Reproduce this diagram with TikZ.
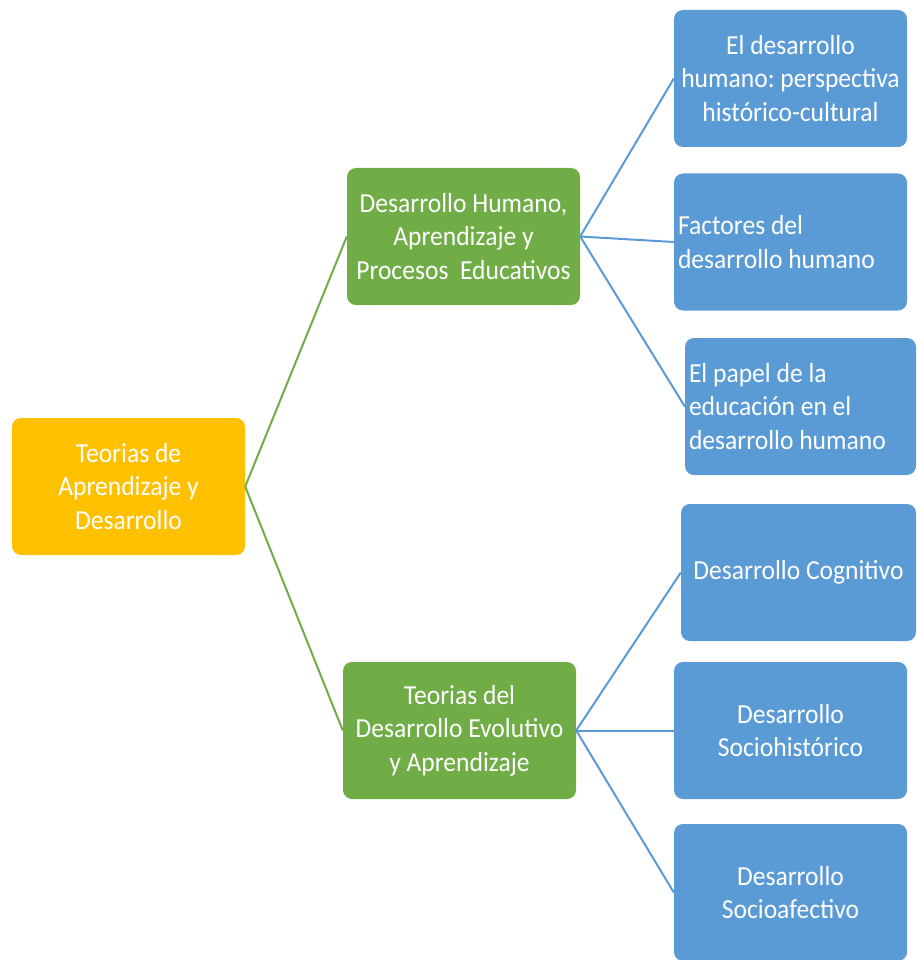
\documentclass[tikz,border=0pt]{standalone}
\usepackage{fontspec}
\setmainfont[FakeStretch=0.93]{Carlito}
\frenchspacing
\definecolor{rootfill}{HTML}{FFC000}
\definecolor{themegreen}{HTML}{70AD47}
\definecolor{themeblue}{HTML}{5B9BD5}
\tikzset{
  box/.style={rounded corners=9pt, minimum width=233pt, minimum height=137pt,
    inner sep=0pt, align=center, text=white,
    font=\fontsize{27.5}{33.5}\selectfont},
  rootbox/.style={box, fill=rootfill},
  midbox/.style={box, fill=themegreen},
  leafbox/.style={box, fill=themeblue},
  leftbox/.style={leafbox, align=flush left, text width=225pt},
  rootlink/.style={draw=themegreen, line width=2pt},
  leaflink/.style={draw=themeblue, line width=2pt}
}

\begin{document}
\begin{tikzpicture}[x=1pt,y=-1pt]
  \useasboundingbox (0,0) rectangle (916,960);
  \node[rootbox] (root) at (128.5,486.5) {Teorias de\\Aprendizaje y\\Desarrollo};
  \node[midbox] (humano) at (463.5,236.5) {Desarrollo Humano,\\Aprendizaje y\\Procesos\ \ Educativos};
  \node[midbox] (teorias) at (459.5,730.5) {Teorias del\\Desarrollo Evolutivo\\y Aprendizaje};
  \node[leafbox] (perspectiva) at (790.5,78.5) {El desarrollo\\humano: perspectiva\\histórico-cultural};
  \node[leftbox, minimum width=233pt] (factores) at (790.5,242) {Factores del\\desarrollo humano};
  \node[leftbox, minimum width=231pt, text width=223pt] (papel) at (800.5,406.5) {El papel de la\\educación en el\\desarrollo humano};
  \node[leafbox, minimum width=235pt] (cognitivo) at (798.5,572.5) {Desarrollo Cognitivo};
  \node[leafbox] (sociohist) at (790.5,730.5) {Desarrollo\\Sociohistórico};
  \node[leafbox] (socioafec) at (790.5,892.5) {Desarrollo\\Socioafectivo};
  \foreach \m in {humano,teorias}
    \draw[rootlink] (root.east) -- (\m.west);
  \foreach \l in {perspectiva,factores,papel}
    \draw[leaflink] (humano.east) -- (\l.west);
  \foreach \l in {cognitivo,sociohist,socioafec}
    \draw[leaflink] (teorias.east) -- (\l.west);
\end{tikzpicture}
\end{document}
